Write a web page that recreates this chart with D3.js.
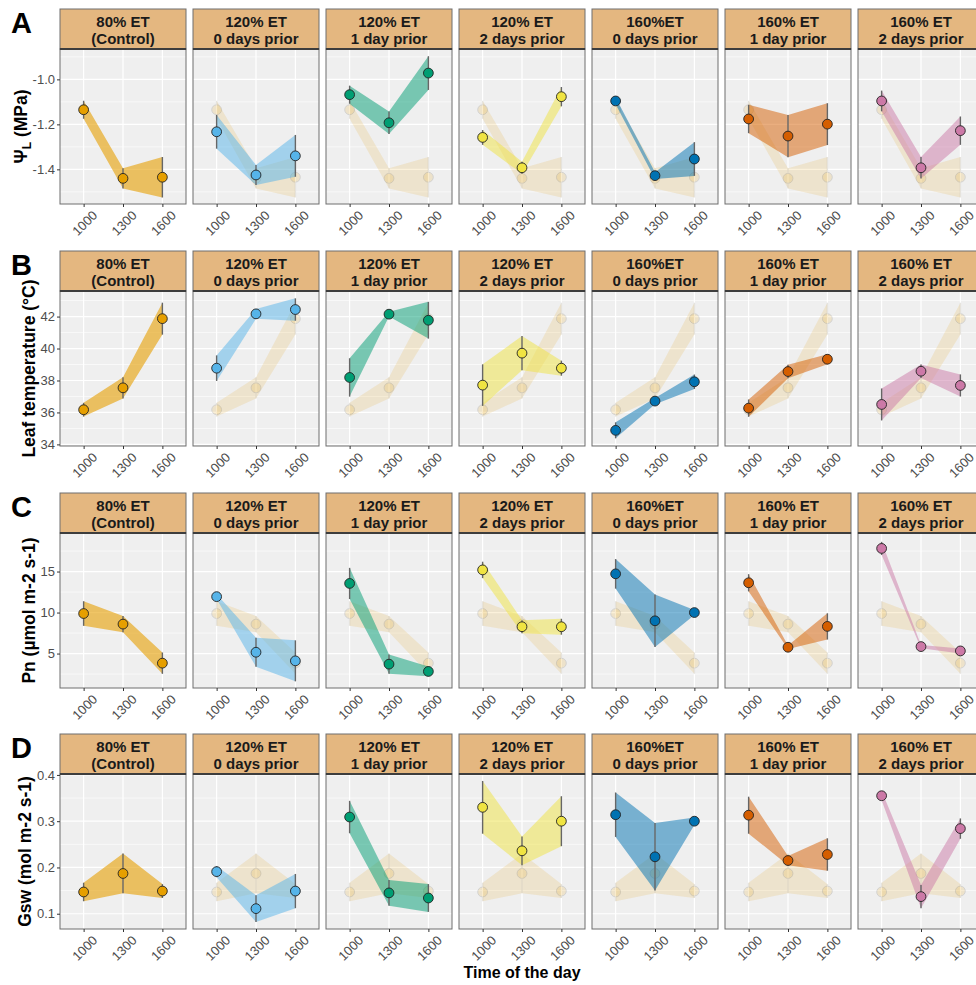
<!DOCTYPE html>
<html lang="en">
<head>
<meta charset="UTF-8">
<title>Leaf physiology by time of day</title>
<script src="https://d3js.org/d3.v7.min.js"></script>
<style>
    body { margin: 0; background: #fff; font-family: "Liberation Sans", Arial, sans-serif; }
    .tick text { fill: #4d4d4d; }
    .tick line { stroke: #333; }
</style>
</head>
<body>
<svg id="chart" width="976" height="985"></svg>
<script>
// ---- data ----
const times = ["1000", "1300", "1600"];
const stripLine1 = ["80% ET", "120% ET", "120% ET", "120% ET", "160%ET", "160% ET", "160% ET"];
const stripLine2 = ["(Control)", "0 days prior", "1 day prior", "2 days prior", "0 days prior", "1 day prior", "2 days prior"];
const colors = ["#E69F00", "#56B4E9", "#009E73", "#F0E442", "#0072B2", "#D55E00", "#CC79A7"];

// A: leaf water potential (MPa)
const psiMean = [
    [-1.135, -1.44, -1.435], [-1.233, -1.425, -1.34], [-1.068, -1.193, -0.972], [-1.258, -1.393, -1.077],
    [-1.096, -1.428, -1.354], [-1.176, -1.252, -1.199], [-1.096, -1.393, -1.228]
];
const psiSE = [
    [0.04, 0.045, 0.09], [0.075, 0.044, 0.093], [0.04, 0.05, 0.075], [0.033, 0.027, 0.043],
    [0.015, 0.015, 0.075], [0.063, 0.094, 0.093], [0.046, 0.048, 0.063]
];
// B: leaf temperature (°C)
const tempMean = [
    [36.17, 37.54, 41.87], [38.77, 42.17, 42.44], [38.19, 42.15, 41.77], [37.71, 39.71, 38.77],
    [34.88, 36.71, 37.92], [36.27, 38.56, 39.33], [36.5, 38.58, 37.69]
];
const tempSE = [
    [0.43, 0.67, 1.0], [0.8, 0.3, 0.7], [1.2, 0.15, 1.15], [1.3, 1.07, 0.47],
    [0.5, 0.2, 0.45], [0.54, 0.42, 0.31], [1.0, 0.42, 0.69]
];
// C: net photosynthesis
const pnMean = [
    [9.88, 8.59, 3.83], [11.94, 5.16, 4.11], [13.55, 3.71, 2.82], [15.2, 8.27, 8.27],
    [14.72, 8.99, 10.0], [13.63, 5.77, 8.31], [17.82, 5.85, 5.32]
];
const pnSE = [
    [1.5, 1.0, 1.3], [0.3, 1.77, 2.5], [1.9, 1.17, 0.6], [1.0, 0.8, 0.97],
    [1.8, 3.2, 0.3], [1.05, 0.2, 1.6], [0.8, 0.2, 0.3]
];
// D: stomatal conductance
const gswMean = [
    [0.147, 0.187, 0.149], [0.191, 0.111, 0.149], [0.309, 0.145, 0.134], [0.33, 0.236, 0.3],
    [0.314, 0.223, 0.3], [0.313, 0.215, 0.228], [0.355, 0.137, 0.284]
];
const gswSE = [
    [0.02, 0.043, 0.015], [0.012, 0.029, 0.037], [0.035, 0.028, 0.03], [0.057, 0.031, 0.054],
    [0.048, 0.073, 0.008], [0.04, 0.01, 0.035], [0.01, 0.025, 0.022]
];

const rowLetters = ["A", "B", "C", "D"];
const rowTitles = ["Ψ", "Leaf temperature (°C)", "Pn (µmol m-2 s-1)", "Gsw (mol m-2 s-1)"];
const rowDomains = [[-1.554, -0.865], [33.9, 43.6], [0.8, 19.7], [0.067, 0.402]];
const rowTicks = [[-1.4, -1.2, -1.0], [34, 36, 38, 40, 42], [5, 10, 15], [0.1, 0.2, 0.3, 0.4]];
const rowTickLabels = [["-1.4", "-1.2", "-1.0"], ["34", "36", "38", "40", "42"], ["5", "10", "15"], ["0.1", "0.2", "0.3", "0.4"]];
const rowMinor = [[-1.5, -1.3, -1.1, -0.9], [35, 37, 39, 41, 43], [2.5, 7.5, 12.5, 17.5], [0.15, 0.25, 0.35]];
const rowMeans = [psiMean, tempMean, pnMean, gswMean];
const rowSE = [psiSE, tempSE, pnSE, gswSE];

// ---- layout ----
const panelLeft = 60, panelW = 126, gapX = 7;
const rowTop = [9, 251, 493, 734];
const stripH = 40, panelH = 155;

const svg = d3.select("#chart");

const x = d3.scalePoint().domain(times).range([0, panelW]).padding(0.6);

rowLetters.forEach((letter, r) => {
    const top = rowTop[r] + stripH;
    const y = d3.scaleLinear().domain(rowDomains[r]).range([panelH, 0]);

    // row letter
    svg.append("text")
        .attr("x", 11).attr("y", rowTop[r] + 24)
        .attr("font-size", 29).attr("font-weight", "bold").attr("fill", "#000")
        .text(letter);

    for (let c = 0; c < 7; c++) {
        const left = panelLeft + c * (panelW + gapX);
        const g = svg.append("g").attr("transform", `translate(${left},${top})`);
        const clipId = `clip-${r}-${c}`;
        g.append("clipPath").attr("id", clipId)
            .append("rect").attr("width", panelW).attr("height", panelH);

        g.append("rect").attr("width", panelW).attr("height", panelH).attr("fill", "#EFEFEF");

        // grid
        g.selectAll(".minor").data(rowMinor[r]).enter().append("line")
            .attr("x1", 0).attr("x2", panelW)
            .attr("y1", d => y(d)).attr("y2", d => y(d))
            .attr("stroke", "#fff").attr("stroke-width", 0.6);
        g.selectAll(".major").data(rowTicks[r]).enter().append("line")
            .attr("x1", 0).attr("x2", panelW)
            .attr("y1", d => y(d)).attr("y2", d => y(d))
            .attr("stroke", "#fff").attr("stroke-width", 1.2);
        g.selectAll(".vmajor").data(times).enter().append("line")
            .attr("x1", d => x(d)).attr("x2", d => x(d))
            .attr("y1", 0).attr("y2", panelH)
            .attr("stroke", "#fff").attr("stroke-width", 1.2);

        const plot = g.append("g").attr("clip-path", `url(#${clipId})`);

        const drawSeries = (idx, alphaRibbon, alphaMark) => {
            const pts = times.map((t, i) => ({ t, m: rowMeans[r][idx][i], se: rowSE[r][idx][i] }));
            const area = d3.area()
                .x(d => x(d.t))
                .y0(d => y(d.m - d.se))
                .y1(d => y(d.m + d.se));
            plot.append("path").datum(pts)
                .attr("d", area)
                .attr("fill", colors[idx]).attr("fill-opacity", alphaRibbon);
            const s = plot.append("g").attr("opacity", alphaMark);
            s.selectAll("line").data(pts).enter().append("line")
                .attr("x1", d => x(d.t)).attr("x2", d => x(d.t))
                .attr("y1", d => y(d.m - d.se)).attr("y2", d => y(d.m + d.se))
                .attr("stroke", "#666").attr("stroke-width", 1.4);
            s.selectAll("circle").data(pts).enter().append("circle")
                .attr("cx", d => x(d.t)).attr("cy", d => y(d.m))
                .attr("r", 4.9)
                .attr("fill", colors[idx]).attr("stroke", "#222").attr("stroke-width", 0.9);
        };

        if (c > 0) drawSeries(0, 0.14, 0.15);
        drawSeries(c, c === 0 ? 0.6 : 0.5, 1);

        // panel border
        g.append("rect").attr("width", panelW).attr("height", panelH)
            .attr("fill", "none").attr("stroke", "#6e6e6e").attr("stroke-width", 1);

        // strip
        const sg = svg.append("g").attr("transform", `translate(${left},${rowTop[r]})`);
        sg.append("rect").attr("width", panelW).attr("height", stripH)
            .attr("fill", "#E4B780").attr("stroke", "#6e6e6e").attr("stroke-width", 1);
        sg.append("line").attr("x1", 0).attr("x2", panelW).attr("y1", stripH).attr("y2", stripH)
            .attr("stroke", "#3d3d3d").attr("stroke-width", 1.8);
        sg.append("text").attr("x", panelW / 2).attr("y", 18)
            .attr("text-anchor", "middle").attr("font-size", 15).attr("font-weight", "bold")
            .attr("fill", "#1a1a1a").text(stripLine1[c]);
        sg.append("text").attr("x", panelW / 2).attr("y", 34.5)
            .attr("text-anchor", "middle").attr("font-size", 15).attr("font-weight", "bold")
            .attr("fill", "#1a1a1a").text(stripLine2[c]);

        // x axis
        const xa = g.append("g").attr("transform", `translate(0,${panelH})`)
            .call(d3.axisBottom(x).tickSize(3).tickPadding(2));
        xa.select(".domain").remove();
        xa.selectAll("text")
            .attr("font-size", 13)
            .attr("font-family", "'Liberation Sans', Arial, sans-serif")
            .attr("text-anchor", "end")
            .attr("dy", "0.6em")
            .attr("transform", "translate(5,3) rotate(-45)");

        // y axis on first column
        if (c === 0) {
            const ya = g.append("g")
                .call(d3.axisLeft(y).tickValues(rowTicks[r])
                    .tickFormat((d, i) => rowTickLabels[r][i]).tickSize(3).tickPadding(2));
            ya.select(".domain").remove();
            ya.selectAll("text").attr("font-size", 13)
                .attr("font-family", "'Liberation Sans', Arial, sans-serif");
            const bb = ya.node().getBBox();
            const tx = bb.x - 6;
            const title = g.append("text")
                .attr("transform", `translate(${tx},${panelH / 2}) rotate(-90)`)
                .attr("text-anchor", "middle")
                .attr("font-size", 17.5).attr("font-weight", "bold").attr("fill", "#000");
            if (r === 0) {
                title.append("tspan").text(rowTitles[r]);
                title.append("tspan").attr("font-size", 12).attr("dy", 4).text("L");
                title.append("tspan").attr("dy", -4).text(" (MPa)");
            } else {
                title.text(rowTitles[r]);
            }
        }
    }
});

// x axis title
svg.append("text")
    .attr("x", panelLeft + (7 * panelW + 6 * gapX) / 2)
    .attr("y", 978)
    .attr("text-anchor", "middle")
    .attr("font-size", 16).attr("font-weight", "bold").attr("fill", "#000")
    .text("Time of the day");
</script>
</body>
</html>
